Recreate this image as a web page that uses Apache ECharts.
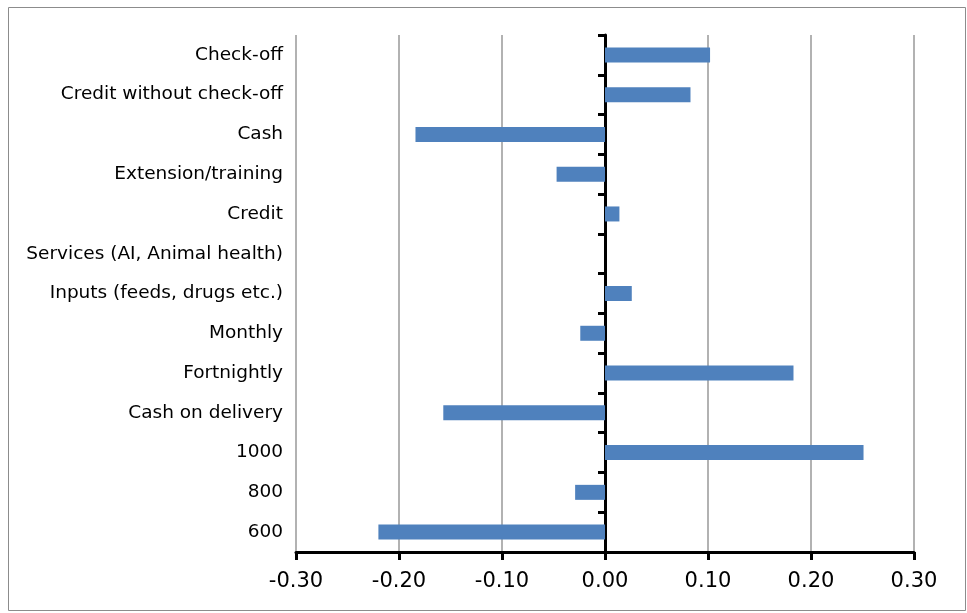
<!DOCTYPE html>
<html><head><meta charset="utf-8">
<script src="https://cdn.jsdelivr.net/npm/echarts@6/dist/echarts.min.js"></script>
<style>html,body{margin:0;padding:0;background:#fff}#c{width:967px;height:613px}</style>
</head><body><div id="c"></div>
<script>
const categories = ['600','800','1000','Cash on delivery','Fortnightly','Monthly','Inputs (feeds, drugs etc.)','Services (AI, Animal health)','Credit','Extension/training','Cash','Credit without check-off','Check-off'];
const values = [-0.220,-0.029,0.251,-0.157,0.183,-0.024,0.026,0,0.014,-0.047,-0.184,0.083,0.102];
const xMin = -0.3, xMax = 0.3, xStep = 0.1;

const FONT = 'DejaVu Sans';
const chart = echarts.init(document.getElementById('c'));
chart.setOption({
  animation:false,
  backgroundColor:'#fff',
  graphic:[{type:'rect',shape:{x:8.5,y:7.5,width:957,height:603},style:{fill:'none',stroke:'#8c8c8c',lineWidth:1},silent:true}],
  grid:{left:296,right:53,top:35,bottom:61,containLabel:false},
  xAxis:{type:'value',min:xMin,max:xMax,interval:xStep,position:'bottom',
    axisLine:{show:true,onZero:false,lineStyle:{color:'#000',width:3}},
    axisTick:{show:true,length:8,lineStyle:{color:'#000',width:3}},
    axisLabel:{formatter:v=>v.toFixed(2),color:'#000',fontFamily:FONT,fontSize:21,margin:19},
    splitLine:{show:true,lineStyle:{color:'#999',width:1.5}}},
  yAxis:[{type:'category',data:categories,
    axisLine:{show:true,onZero:true,lineStyle:{color:'#000',width:3}},
    axisTick:{show:true,length:7,alignWithLabel:false,lineStyle:{color:'#000',width:3}},
    axisLabel:{show:false},splitLine:{show:false}},
   {type:'category',data:categories,position:'left',
    axisLine:{show:false,onZero:false},axisTick:{show:false},
    axisLabel:{show:true,color:'#000',fontFamily:FONT,fontSize:18.5,margin:13,padding:[6,0,0,0]},splitLine:{show:false}}],
  series:[{type:'bar',data:values,yAxisIndex:0,barWidth:15,itemStyle:{color:'#4F81BD'}}]
});
</script></body></html>
